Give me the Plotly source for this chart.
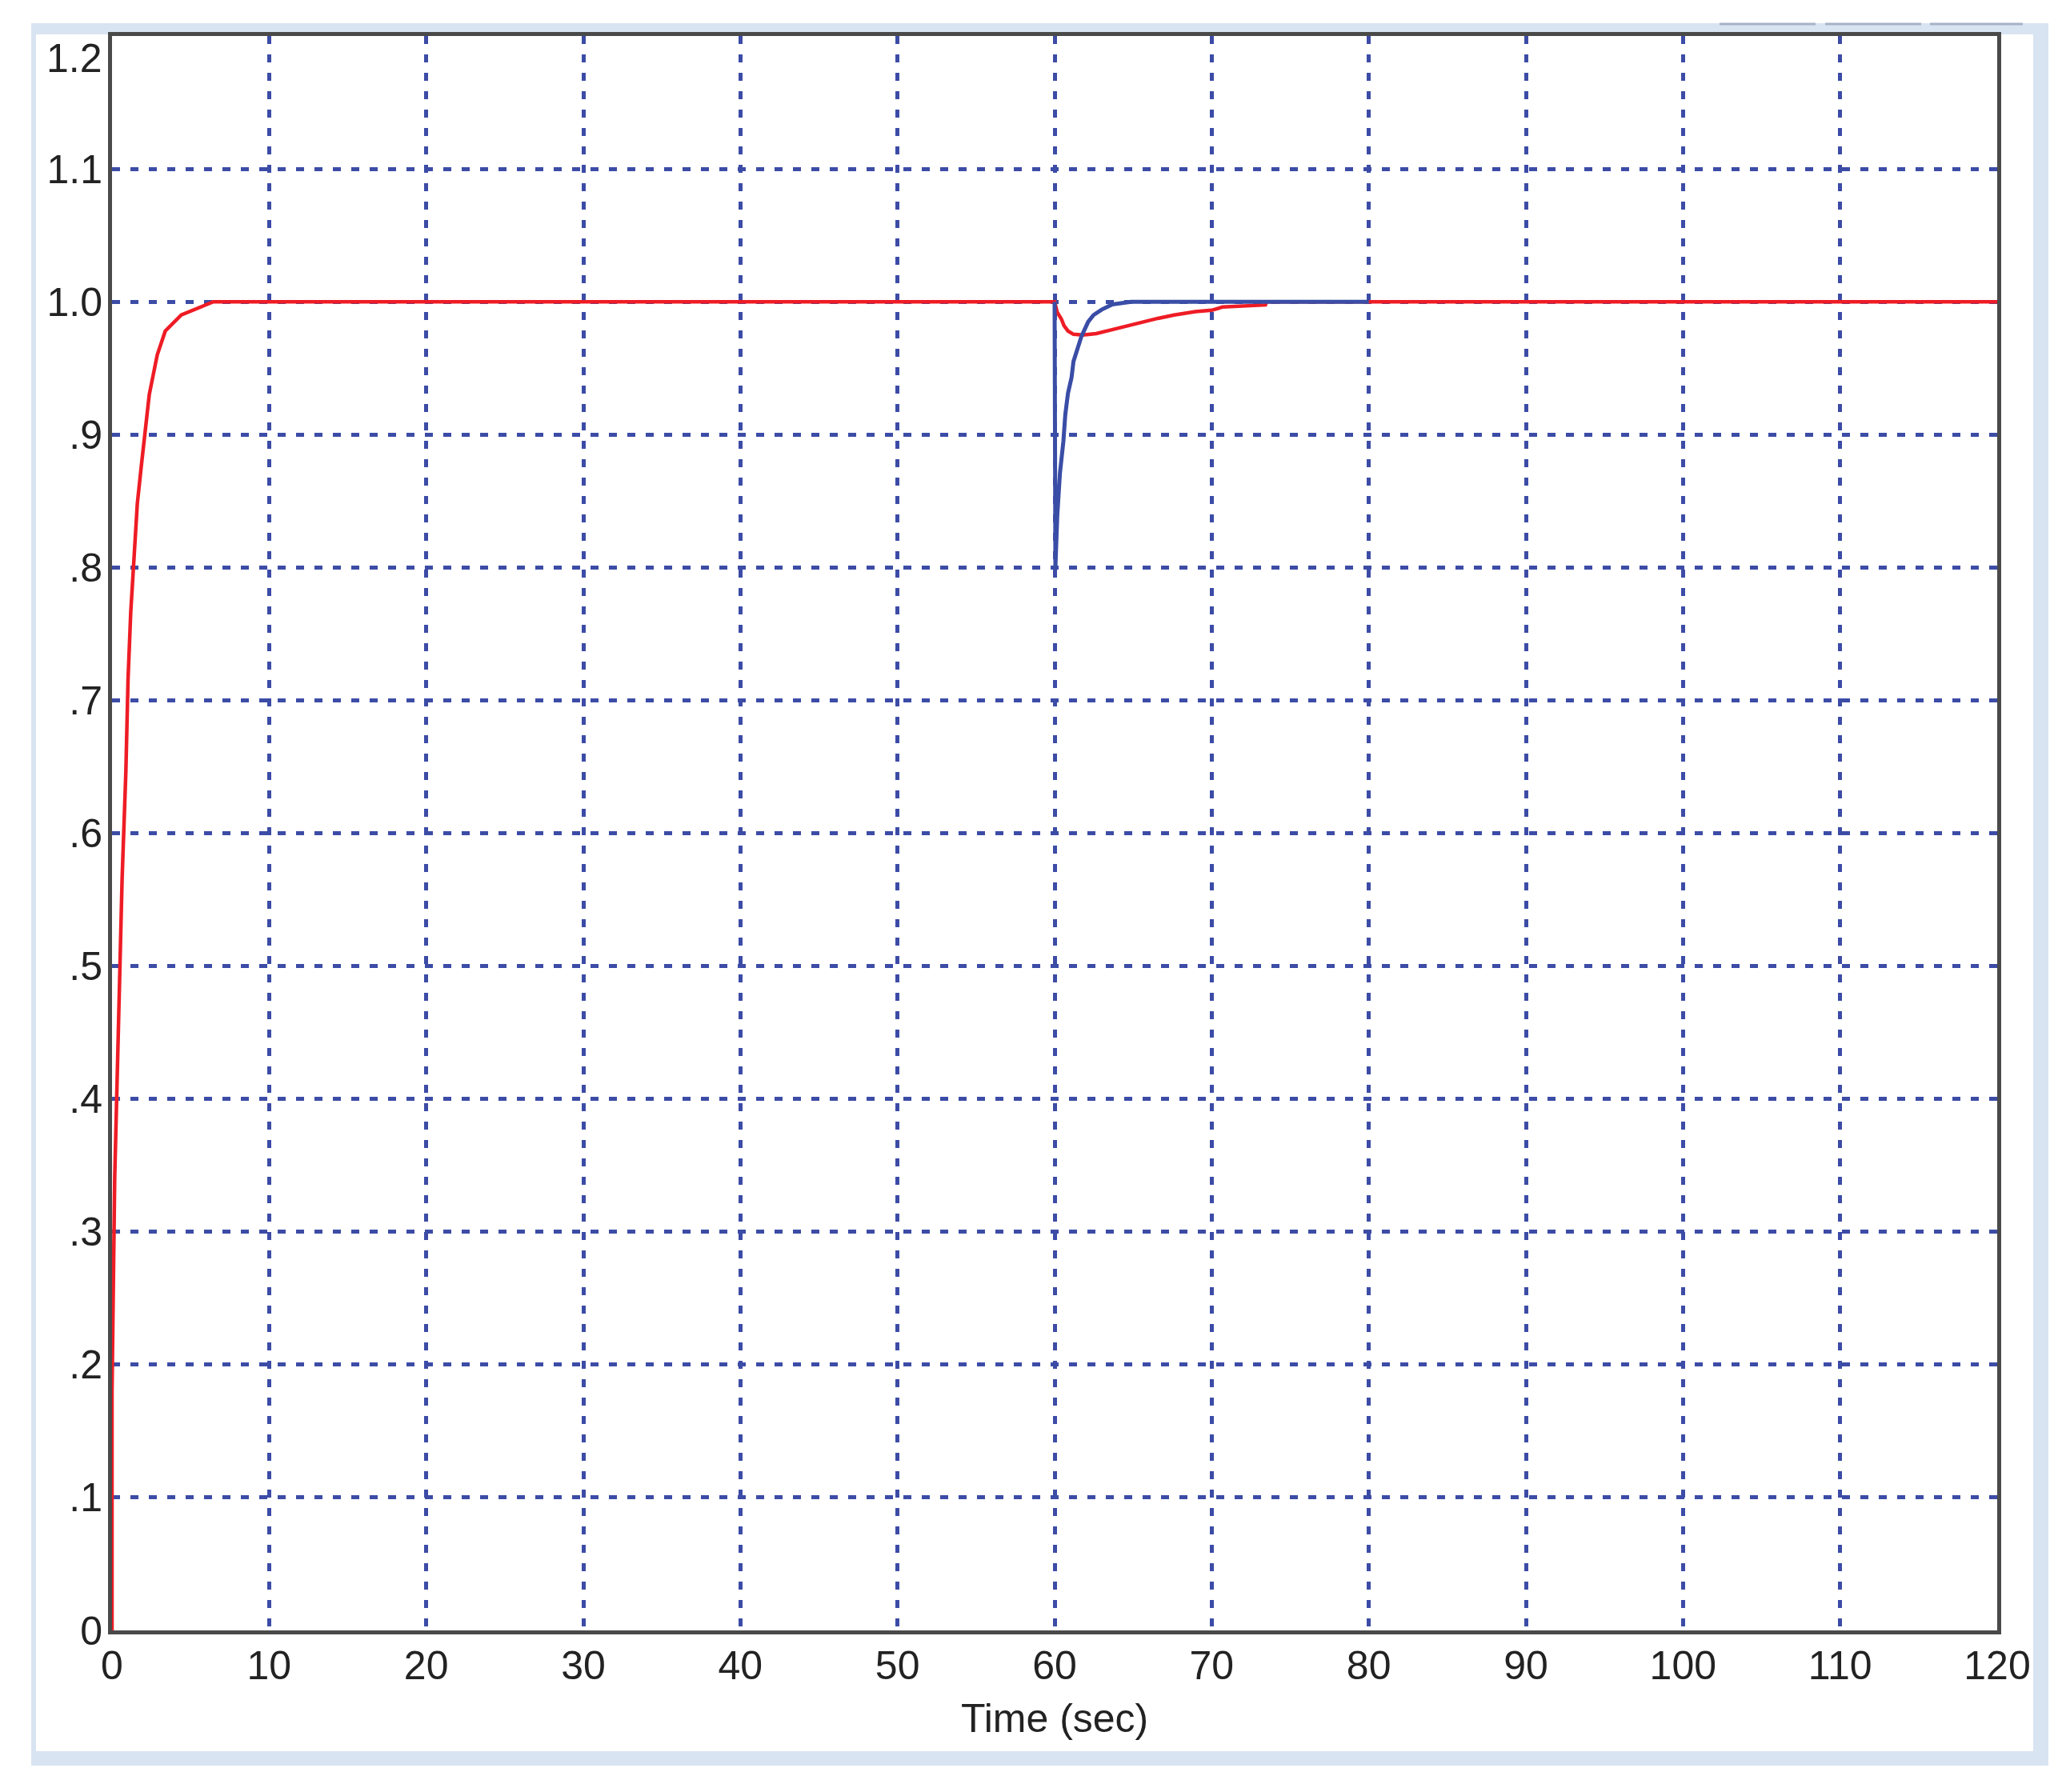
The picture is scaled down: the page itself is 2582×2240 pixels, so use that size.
import plotly.graph_objects as go

# ---- data ----
red_t = [0, 0, 0.17, 0.42, 0.64, 0.88, 1.02, 1.19, 1.44, 1.61, 1.87, 2.11, 2.37, 2.88, 3.39, 4.41, 6.45,
         60, 60.17, 60.43, 60.6, 60.85, 61.2, 61.79, 62.65, 63.5, 64.19, 65.21, 66.58, 67.61, 68.97,
         70.0, 70.68, 73.42, 73.5, 120]
red_v = [0, 0.18, 0.34, 0.46, 0.565, 0.646, 0.716, 0.766, 0.81, 0.848, 0.877, 0.90, 0.93, 0.96, 0.978,
         0.99, 1.0, 1.0, 0.992, 0.987, 0.982, 0.978, 0.9755, 0.975, 0.976, 0.9785, 0.9805, 0.984,
         0.9875, 0.990, 0.9926, 0.9936, 0.996, 0.9976, 1.0, 1.0]

blue_t = [60, 60.03, 60.05, 60.17, 60.34, 60.56, 60.68, 60.85, 61.08, 61.2, 61.45, 61.71, 62.14,
          62.48, 62.99, 63.68, 64.87, 80]
blue_v = [1.0, 0.9, 0.80, 0.839, 0.871, 0.895, 0.915, 0.931, 0.943, 0.955, 0.965, 0.974, 0.985,
          0.990, 0.994, 0.998, 1.0, 1.0]

x_ticks = [0, 10, 20, 30, 40, 50, 60, 70, 80, 90, 100, 110, 120]
y_ticks = [0, 0.1, 0.2, 0.3, 0.4, 0.5, 0.6, 0.7, 0.8, 0.9, 1.0, 1.1]
y_tick_text = ["0", ".1", ".2", ".3", ".4", ".5", ".6", ".7", ".8", ".9", "1.0", "1.1"]
top_label = "1.2"
x_title = "Time (sec)"

# ---- layout geometry (pixels) ----
W, H = 2582, 2240
L, R, T, B = 140, 2496, 45, 2038
pw, ph = R - L, B - T


def px(x):
    return (x - L) / pw


def py(y):
    return (B - y) / ph


FONT = "Liberation Sans, Arial, sans-serif"
FS = 50
GRID = "#3C4CA6"
FRAME = "#D8E4F1"

fig = go.Figure()
fig.add_trace(go.Scatter(x=red_t, y=red_v, mode="lines",
                         line=dict(color="#EE1C25", width=4.5), showlegend=False))
fig.add_trace(go.Scatter(x=blue_t, y=blue_v, mode="lines",
                         line=dict(color="#3A4DA6", width=5), showlegend=False))

shapes = [
    dict(type="rect", xref="paper", yref="paper", layer="below",
         x0=px(39), x1=px(2560), y0=py(2207), y1=py(29),
         fillcolor=FRAME, line=dict(width=0)),
    dict(type="rect", xref="paper", yref="paper", layer="below",
         x0=px(45), x1=px(2541), y0=py(2189), y1=py(43),
         fillcolor="white", line=dict(width=0)),
]
for a, b in [(2149, 2269), (2281, 2401), (2412, 2528)]:
    shapes.append(dict(type="line", xref="paper", yref="paper", layer="below",
                       x0=px(a), x1=px(b), y0=py(30), y1=py(30),
                       line=dict(color="#A7B2C8", width=3)))

fig.update_layout(
    width=W, height=H,
    margin=dict(l=L, r=W - R, t=T, b=H - B),
    paper_bgcolor="white", plot_bgcolor="white",
    font=dict(family=FONT, size=FS, color="#222222"),
    shapes=shapes,
    annotations=[
        dict(x=0, y=1.2, xref="paper", yref="y", text=top_label, showarrow=False,
             xanchor="right", yanchor="middle", xshift=-10, yshift=-28,
             font=dict(family=FONT, size=FS, color="#222222")),
        dict(x=0.5, y=py(2148), xref="paper", yref="paper", text=x_title, showarrow=False,
             xanchor="center", yanchor="middle",
             font=dict(family=FONT, size=FS, color="#222222")),
    ],
)

fig.update_xaxes(
    range=[0, 120], tickvals=x_ticks, ticks="", ticklabelstandoff=-4,
    showgrid=True, gridcolor=GRID, gridwidth=5, griddash="10px,13px",
    showline=True, linecolor="#4A4A4A", linewidth=5, mirror=True, zeroline=False,
)
fig.update_yaxes(
    range=[0, 1.2], tickvals=y_ticks, ticktext=y_tick_text, ticks="", ticklabelstandoff=-3,
    showgrid=True, gridcolor=GRID, gridwidth=5, griddash="10px,13px",
    showline=True, linecolor="#4A4A4A", linewidth=5, mirror=True, zeroline=False,
)

fig.write_html("out.html", config={"displayModeBar": False},
               post_script="document.body.style.margin='0';")
